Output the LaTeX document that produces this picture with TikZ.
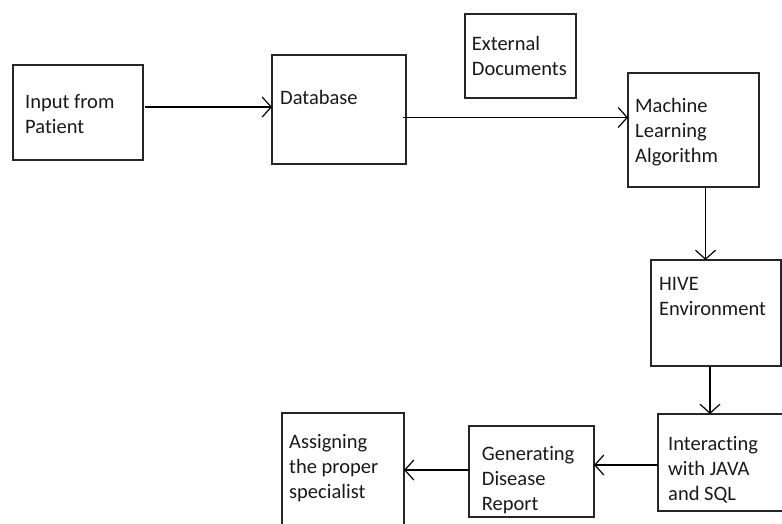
\documentclass[tikz,border=0pt]{standalone}
\usepackage{fontspec}
\setmainfont{Carlito}[Ligatures=NoCommon]
\usetikzlibrary{arrows.meta,calc}
\begin{document}
\begin{tikzpicture}[x=1pt,y=-1pt,
  box/.style={draw=black!85, line width=1.3pt, anchor=north west, inner sep=0pt, outer sep=0pt},
  txt/.style={anchor=north west, inner sep=0pt, align=left, font=\fontsize{20.5}{25}\selectfont, text=black!90, execute at begin node=\rule{0pt}{16pt}},
  arr/.style={line width=1.2pt, -{Straight Barb[length=9pt,width=20pt]}}]
\useasboundingbox (0,0) rectangle (782,523);
% boxes
\node[box, minimum width=130pt, minimum height=95pt] (inp) at (13,65) {};
\node[box, minimum width=134pt, minimum height=109pt] (db) at (272,55) {};
\node[box, minimum width=111pt, minimum height=84pt] (ext) at (465,14) {};
\node[box, minimum width=131pt, minimum height=114pt] (ml) at (628,73) {};
\node[box, minimum width=130pt, minimum height=106pt] (hive) at (651,260) {};
\node[box, minimum width=140pt, minimum height=97pt] (inter) at (658,414) {};
\node[box, minimum width=125pt, minimum height=91pt] (gen) at (469,426) {};
\node[box, minimum width=122pt, minimum height=120pt] (asg) at (282,413) {};
% texts
\node[txt] (inpT) at (25,94) {Input from\\Patient};
\node[txt] (dbT) at (280,88.5) {Database};
\node[txt] (extT) at (471.7,36.5) {External\\Documents};
\node[txt] (mlT) at (635,98.5) {Machine\\Learning\\Algorithm};
\node[txt] (hiveT) at (659,277) {HIVE\\Environment};
\node[txt] (interT) at (668,436.5) {Interacting\\with JAVA\\and SQL};
\node[txt] (asgT) at (289,434.5) {Assigning\\the proper\\specialist};
\node[txt] (genT) at (481.7,446.5) {Generating\\Disease\\Report};
% connectors
\coordinate (s1) at ($(inp.east)+(2,-5.5)$);
\draw[arr] (s1) -- (s1 -| db.west);
\coordinate (s2) at ($(db.east)+(-3,8)$);
\draw[arr] (s2) -- (s2 -| ml.west);
\coordinate (s3) at ($(ml.south)+(12,0)$);
\draw[arr] (s3) -- (s3 |- hive.north);
\coordinate (s4) at ($(hive.south)+(-6,0)$);
\draw[arr] (s4) -- (s4 |- inter.north);
\coordinate (s5) at ($(inter.west)+(0,2.5)$);
\draw[arr] (s5) -- (s5 -| gen.east);
\coordinate (s6) at ($(gen.west)+(0,-1.5)$);
\draw[arr] (s6) -- (s6 -| asg.east);
\end{tikzpicture}
\end{document}
